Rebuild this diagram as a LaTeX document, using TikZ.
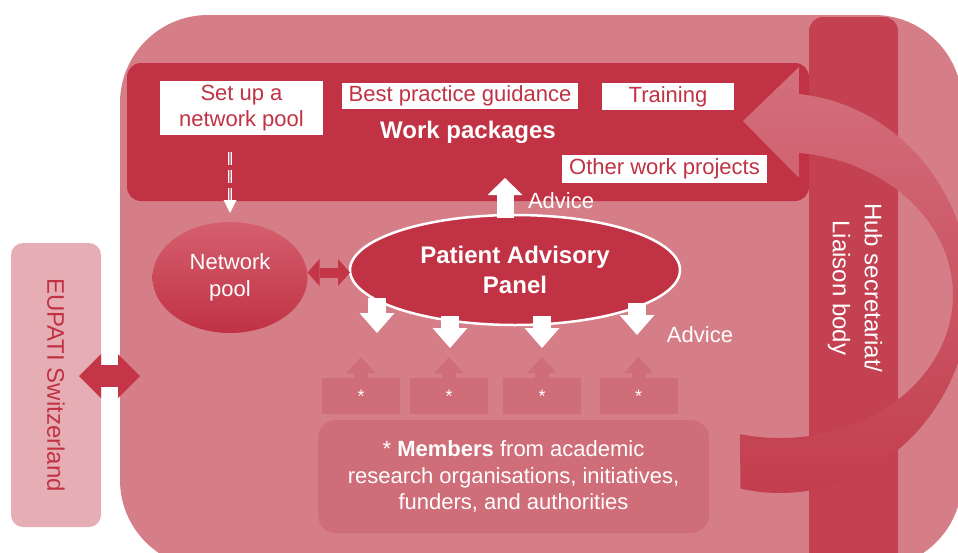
\documentclass[tikz,border=0pt]{standalone}
\usepackage{fontspec}
\setmainfont{Liberation Sans}
\usetikzlibrary{arrows.meta,calc,shapes.geometric}

\definecolor{hubpink}{HTML}{D57E87}
\definecolor{wpred}{HTML}{C03244}
\definecolor{hubred}{HTML}{C44152}
\definecolor{memberpink}{HTML}{CF6D79}
\definecolor{eupatipink}{HTML}{E6AEB4}
\definecolor{linkred}{HTML}{C33547}
\definecolor{loophigh}{HTML}{D46F7C}
\definecolor{looplow}{HTML}{C33E4E}
\definecolor{poolhigh}{HTML}{D55F6E}

\newcommand{\txt}{\fontsize{22}{26}\selectfont}
\newcommand{\bigtxt}{\fontsize{24}{30}\selectfont}

\tikzset{
	every node/.style={inner sep=0pt, outer sep=0pt},
	wpitem/.style={fill=white, text=wpred, font=\txt, align=center},
	starbox/.style={fill=memberpink, minimum width=78pt, minimum height=36pt, text=white, font=\fontsize{18}{18}\selectfont},
	staruplink/.style={draw=memberpink, line width=14pt, -{Triangle[width=29pt,length=16pt,line width=0pt]}},
	advicelink/.style={draw=white, line width=18pt, -{Triangle[width=35pt,length=20pt,line width=0pt]}},
	whitetxt/.style={text=white, font=\txt, align=center},
}

\begin{document}
\begin{tikzpicture}[x=1pt,y=-1pt]
		%%%%% START %%%%%
		\useasboundingbox (0,0) rectangle (958,552);
		\clip (0,0) rectangle (958,552);
		
		\node[fill=hubpink, rounded corners=88pt, minimum width=842pt, minimum height=553pt] (hub) at (541,291.5) {};
		
		\node[fill=eupatipink, rounded corners=12pt, minimum width=90pt, minimum height=284pt] (eupati) at (56,385) {};
		\node[rotate=-90, text=wpred, font=\bigtxt] (eupatilabel) at (eupati) {EUPATI Switzerland};
		\draw[linkred, line width=22pt, {Triangle[width=44pt,length=22pt,line width=0pt]}-{Triangle[width=44pt,length=22pt,line width=0pt]}]
			([xshift=-22pt,yshift=9pt]eupati.east) -- ([xshift=20pt,yshift=9pt]eupati.east -| hub.west);
		
		% work packages
		\node[fill=wpred, rounded corners=14pt, minimum width=682pt, minimum height=138pt, text=white, font=\bfseries\bigtxt] (wp) at (468,132) {Work packages};
		\node[wpitem, minimum width=163pt, minimum height=54pt] (setup) at (241.5,108) {Set up a\\network pool};
		\node[wpitem, minimum width=236pt, minimum height=26pt] (guidance) at (460,96) {Best practice guidance};
		\node[wpitem, minimum width=132pt, minimum height=27pt] (training) at (668,96.5) {Training};
		\node[wpitem, minimum width=205pt, minimum height=28pt] (otherwp) at (664.5,169) {Other work projects};
		
		\node[fill=hubred, rounded corners=14pt, minimum width=89pt, minimum height=558pt] (secretariat) at (853.5,296) {};
		
		% loop back to the work packages
		\shade[top color=loophigh, bottom color=looplow]
			plot[domain=0:186.3, samples=80] ({780+190*cos(102-\x)},{293+200*sin(102-\x)})
			-- (799,67) -- (743,121) -- (799,178)
			-- plot[domain=-83.7:103.4, samples=80] ({780+173*cos(\x)},{295+143*sin(\x)}) -- cycle;
		
		\node[rotate=-90, text=white, font=\fontsize{24}{32}\selectfont, align=center] (liaison) at (855,288) {Hub secretariat/\\Liaison body};
		
		% panel and pool
		\node[ellipse, top color=poolhigh, bottom color=wpred, minimum width=155pt, minimum height=111pt, whitetxt, font=\fontsize{22}{27}\selectfont] (pool) at (230,277.5) {Network\\pool};
		\node[ellipse, fill=wpred, draw=white, line width=2.5pt, minimum width=330pt, minimum height=110pt, whitetxt, font=\bfseries\bigtxt] (pap) at (515,270) {Patient Advisory\\Panel};
		
		\draw[white, line width=1.2pt, double=hubpink, double distance=2.4pt, dash pattern=on 13pt off 5pt, shorten <=17pt, shorten >=22pt]
			(pool.north |- setup.south) -- (pool.north);
		\fill[white] ([xshift=-6.5pt,yshift=22pt]pool.north) -- ([xshift=6.5pt,yshift=22pt]pool.north) -- ([yshift=9pt]pool.north) -- cycle;
		
		\draw[linkred, line width=10pt, {Triangle[width=27pt,length=12pt,line width=0pt]}-{Triangle[width=27pt,length=12pt,line width=0pt]}]
			([yshift=5pt]pool.east) -- ([yshift=5pt]pool.east -| pap.west);
		
		\draw[advicelink, line width=17pt, -{Triangle[width=35pt,length=17pt,line width=0pt]}] ($(pap.north)+(-10,3)$) -- ++(0,-40);
		\node[whitetxt, anchor=west] (advicewp) at (528,201) {Advice};
		
		\foreach \dx/\dy/\len in {-138/28/35,-65/46/32,27/46/32,122/33/32}
			\draw[advicelink] ($(pap.center)+(\dx,\dy)$) -- ++(0,\len);
		\node[whitetxt] (advicemembers) at (700,335) {Advice};
		
		% members
		\node[starbox] (star1) at (361,396) {*};
		\node[starbox] (star2) at (449,396) {*};
		\node[starbox] (star3) at (542,396) {*};
		\node[starbox] (star4) at (638.5,396) {*};
		\foreach \s in {1,...,4}
			\draw[staruplink] (star\s.north) -- ++(0,-21);
		
		\node[fill=memberpink, rounded corners=18pt, minimum width=391pt, minimum height=113pt, whitetxt, font=\fontsize{22}{26.5}\selectfont] (members) at (513.5,476.5)
			{* \textbf{Members} from academic\\research organisations, initiatives,\\funders, and authorities};
		
		%%%%% END %%%%%
\end{tikzpicture}
\end{document}
